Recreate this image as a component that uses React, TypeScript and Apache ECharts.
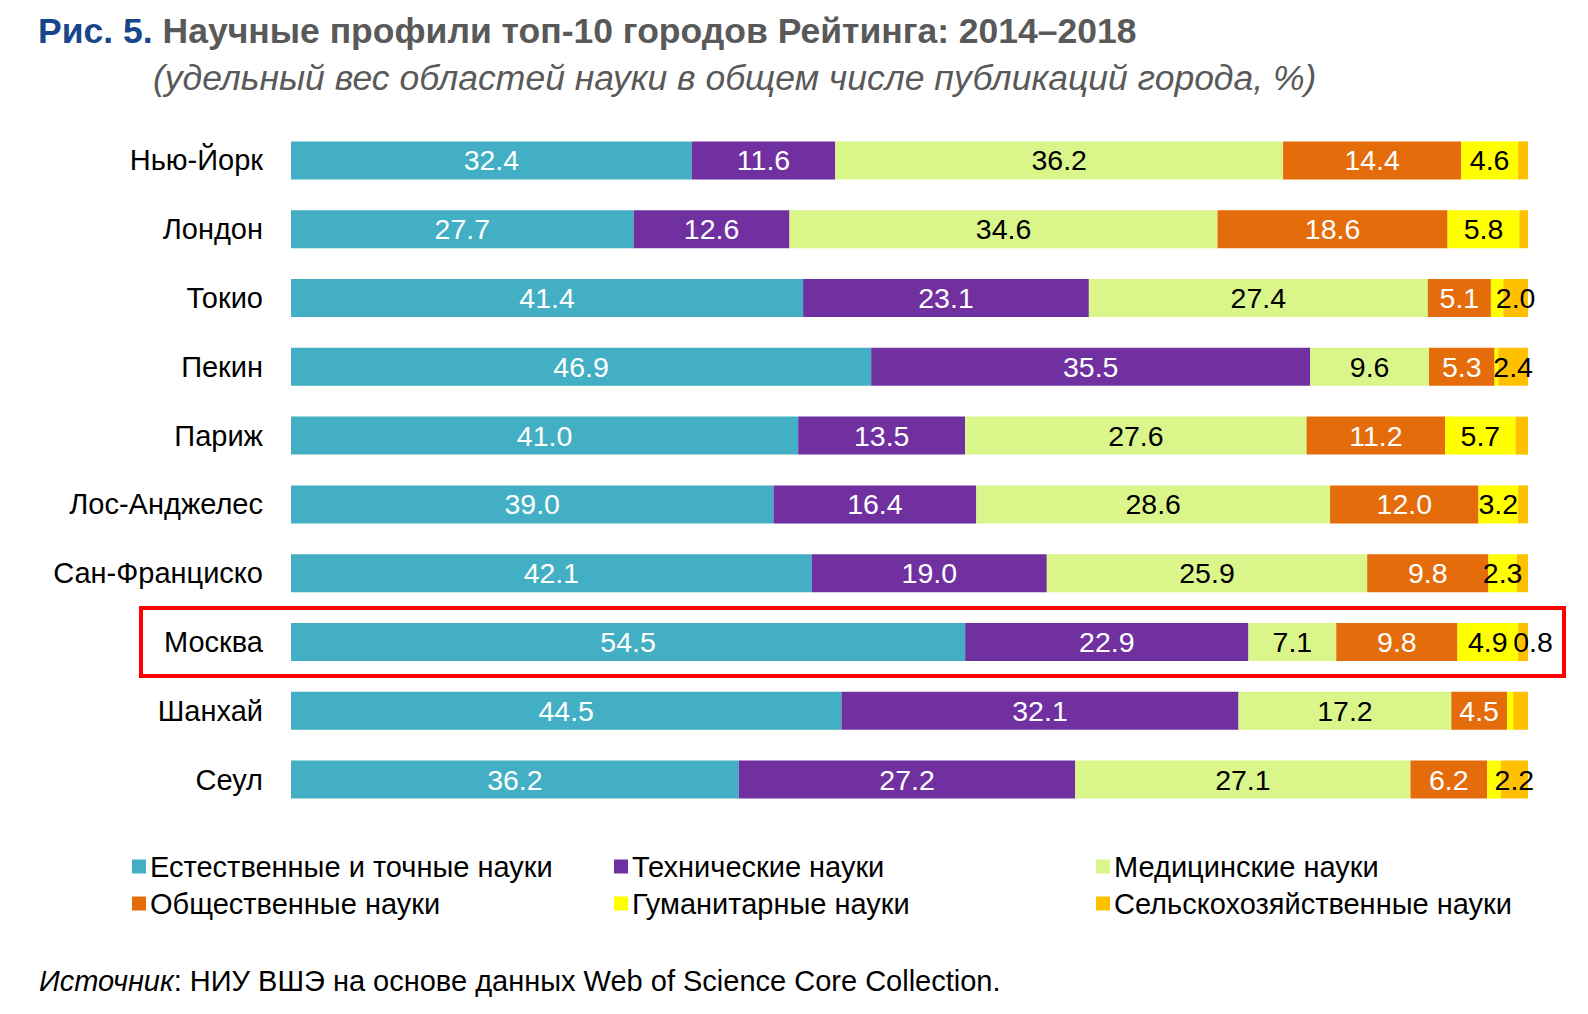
import React, { useEffect, useRef } from "react";
import * as echarts from "echarts";

const cities = ["Нью-Йорк", "Лондон", "Токио", "Пекин", "Париж", "Лос-Анджелес", "Сан-Франциско", "Москва", "Шанхай", "Сеул"];
const seriesNames = [
  "Естественные и точные науки",
  "Технические науки",
  "Медицинские науки",
  "Общественные науки",
  "Гуманитарные науки",
  "Сельскохозяйственные науки",
];
const natural = [32.4, 27.7, 41.4, 46.9, 41.0, 39.0, 42.1, 54.5, 44.5, 36.2];
const technical = [11.6, 12.6, 23.1, 35.5, 13.5, 16.4, 19.0, 22.9, 32.1, 27.2];
const medical = [36.2, 34.6, 27.4, 9.6, 27.6, 28.6, 25.9, 7.1, 17.2, 27.1];
const social = [14.4, 18.6, 5.1, 5.3, 11.2, 12.0, 9.8, 9.8, 4.5, 6.2];
const humanities = [4.6, 5.8, 1.0, 0.3, 5.7, 3.2, 2.3, 4.9, 0.5, 1.1];
const agri = [0.8, 0.7, 2.0, 2.4, 1.0, 0.8, 0.9, 0.8, 1.2, 2.2];
const highlightCity = "Москва";

const colors = ["#42AFC4", "#7030A0", "#DAF68A", "#E46C0A", "#FFFF00", "#FFC000"];
const labelColors = ["#ffffff", "#ffffff", "#000000", "#ffffff", "#000000", "#000000"];
const FONT = "Liberation Sans, Arial, sans-serif";

export default function App() {
  const ref = useRef<HTMLDivElement>(null);
  useEffect(() => {
    document.body.style.margin = "0";
    const chart = echarts.init(ref.current!, null, { renderer: "svg" });
    const allData = [natural, technical, medical, social, humanities, agri];
    const series = allData.map((arr, si) => ({
      name: seriesNames[si],
      type: "bar",
      stack: "total",
      barWidth: 38,
      itemStyle: { color: colors[si] },
      data: arr.map((v, ci) => {
        const forced = si === 5 && cities[ci] === highlightCity;
        return {
          value: v,
          label: {
            show: v >= 2 || forced,
            offset: forced ? [10, 0] : [0, 0],
          },
        };
      }),
      label: {
        position: "inside",
        color: labelColors[si],
        fontSize: 28.5,
        fontFamily: FONT,
        formatter: (p: any) => Number(p.value).toFixed(1),
      },
    }));

    const legendCols = [
      { left: 127, names: [seriesNames[0], seriesNames[3]] },
      { left: 609, names: [seriesNames[1], seriesNames[4]] },
      { left: 1091, names: [seriesNames[2], seriesNames[5]] },
    ];

    chart.setOption({
      animation: false,
      backgroundColor: "#ffffff",
      textStyle: { fontFamily: FONT },
      title: [
        {
          left: 33,
          top: 8,
          text: "{a|Рис. 5.}  {b|Научные профили топ-10 городов Рейтинга: 2014–2018}",
          textStyle: {
            rich: {
              a: { fontSize: 35.5, fontWeight: "bold", color: "#17468C", fontFamily: FONT },
              b: { fontSize: 35.5, fontWeight: "bold", color: "#595959", fontFamily: FONT },
            },
          },
        },
        {
          left: 148,
          top: 55,
          text: "(удельный вес областей науки в общем числе публикаций города, %)",
          textStyle: { fontSize: 35.5, fontStyle: "italic", fontWeight: "normal", color: "#595959", fontFamily: FONT },
        },
        {
          left: 34,
          top: 961,
          text: "{i|Источник}{n|: НИУ ВШЭ на основе данных Web of Science Core Collection.}",
          textStyle: {
            fontWeight: "normal",
            rich: {
              i: { fontSize: 29, fontStyle: "italic", fontWeight: "normal", color: "#000", fontFamily: FONT },
              n: { fontSize: 29, fontWeight: "normal", color: "#000", fontFamily: FONT },
            },
          },
        },
      ],
      legend: legendCols.map((c) => ({
        left: c.left,
        top: 847,
        orient: "vertical",
        itemGap: 8,
        itemWidth: 14,
        itemHeight: 14,
        icon: "rect",
        selectedMode: false,
        data: c.names,
        textStyle: { fontSize: 29, color: "#000", fontFamily: FONT, padding: [0, 0, 0, -1] },
      })),
      grid: { left: 291, right: 60, top: 126, bottom: 200, containLabel: false },
      xAxis: { type: "value", min: 0, max: 100, show: false },
      yAxis: {
        type: "category",
        inverse: true,
        data: cities,
        axisLine: { show: false },
        axisTick: { show: false },
        axisLabel: { fontSize: 29, color: "#000", margin: 28, fontFamily: FONT },
      },
      series,
    });

    const yc = chart.convertToPixel({ yAxisIndex: 0 }, highlightCity) as number;
    chart.setOption({
      graphic: [
        {
          type: "rect",
          shape: { x: 141, y: yc - 34, width: 1423, height: 68 },
          style: { fill: "none", stroke: "#FF0000", lineWidth: 4 },
          z: 100,
        },
      ],
    });
    return () => chart.dispose();
  }, []);
  return <div ref={ref} style={{ width: 1588, height: 1014 }} />;
}
